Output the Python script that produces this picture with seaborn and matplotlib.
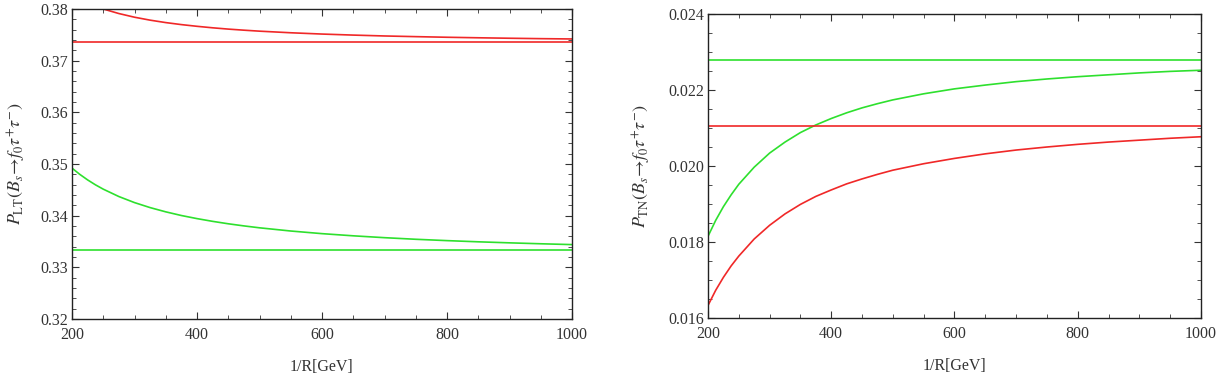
import matplotlib
matplotlib.use("Agg")
import matplotlib.pyplot as plt
import seaborn as sns
import pandas as pd
from matplotlib.ticker import MultipleLocator, FormatStrFormatter

# ---- data ----
inv_R = [200, 212.5, 225, 237.5, 250, 275, 300, 325, 350, 375, 400, 425, 450, 475, 500, 550,
         600, 650, 700, 750, 800, 850, 900, 950, 1000]

# Left panel: P_LT
plt_red_curve = [0.38263, 0.38183, 0.38113, 0.38053, 0.38000, 0.37912, 0.37841, 0.37784, 0.37737,
                 0.37698, 0.37665, 0.37636, 0.37611, 0.37590, 0.37571, 0.37540,
                 0.37515, 0.37495, 0.37478, 0.37465, 0.37453, 0.37443, 0.37434, 0.37426, 0.37420]
plt_red_flat = [0.37368] * 25
plt_green_curve = [0.34920, 0.34799, 0.34692, 0.34597, 0.34513, 0.34370, 0.34253, 0.34156, 0.34074,
                   0.34003, 0.33943, 0.33890, 0.33843, 0.33802, 0.33765, 0.33703,
                   0.33652, 0.33610, 0.33574, 0.33543, 0.33517, 0.33494, 0.33474, 0.33456, 0.33440]
plt_green_flat = [0.33328] * 25

# Right panel: P_TN
ptn_green_flat = [0.02278] * 25
ptn_green_curve = [0.01815, 0.01857, 0.01893, 0.01924, 0.01952, 0.01997, 0.02034, 0.02063, 0.02088,
                   0.02108, 0.02125, 0.02140, 0.02153, 0.02164, 0.02174, 0.02190,
                   0.02203, 0.02213, 0.02222, 0.02229, 0.02235, 0.02240, 0.02245, 0.02249, 0.02252]
ptn_red_flat = [0.02104] * 25
ptn_red_curve = [0.01633, 0.01673, 0.01707, 0.01737, 0.01763, 0.01808, 0.01844, 0.01874, 0.01899,
                 0.01920, 0.01937, 0.01953, 0.01966, 0.01978, 0.01989, 0.02006,
                 0.02020, 0.02032, 0.02042, 0.02050, 0.02057, 0.02063, 0.02068, 0.02073, 0.02077]

RED = "#f02828"
GREEN = "#2ee02e"

sns.set_style("ticks")
plt.rcParams["font.family"] = ["Liberation Serif", "DejaVu Serif"]
plt.rcParams["mathtext.fontset"] = "stix"

def long_df(series):
    rows = []
    for name, vals in series.items():
        for x, y in zip(inv_R, vals):
            rows.append({"x": x, "y": y, "s": name})
    return pd.DataFrame(rows)

fig = plt.figure(figsize=(12.21, 3.83), dpi=100)
ax1 = fig.add_axes([0.05897, 0.16710, 0.40950, 0.80940])
ax2 = fig.add_axes([0.57985, 0.16971, 0.40377, 0.79373])

df1 = long_df({"rc": plt_red_curve, "rf": plt_red_flat, "gc": plt_green_curve, "gf": plt_green_flat})
df2 = long_df({"gf": ptn_green_flat, "gc": ptn_green_curve, "rf": ptn_red_flat, "rc": ptn_red_curve})
pal = {"rc": RED, "rf": RED, "gc": GREEN, "gf": GREEN}

sns.lineplot(data=df1, x="x", y="y", hue="s", palette=pal, ax=ax1, legend=False, lw=1.2)
sns.lineplot(data=df2, x="x", y="y", hue="s", palette=pal, ax=ax2, legend=False, lw=1.2)

ax1.set_xlim(200, 1000)
ax1.set_ylim(0.32, 0.38)
ax1.yaxis.set_major_locator(MultipleLocator(0.01))
ax1.yaxis.set_minor_locator(MultipleLocator(0.002))
ax1.yaxis.set_major_formatter(FormatStrFormatter("%.2f"))

ax2.set_xlim(200, 1000)
ax2.set_ylim(0.016, 0.024)
ax2.yaxis.set_major_locator(MultipleLocator(0.002))
ax2.yaxis.set_minor_locator(MultipleLocator(0.0005))
ax2.yaxis.set_major_formatter(FormatStrFormatter("%.3f"))

for ax in (ax1, ax2):
    ax.xaxis.set_major_locator(MultipleLocator(200))
    ax.xaxis.set_minor_locator(MultipleLocator(50))
    ax.tick_params(which="both", direction="in", top=True, right=True, labelsize=11.5,
                   colors="#333333", labelcolor="#333333")
    ax.tick_params(which="major", length=5, width=0.8)
    ax.tick_params(which="minor", length=3, width=0.6)
    ax.tick_params(axis="x", which="major", pad=6)
    ax.tick_params(axis="y", which="major", pad=3)
    for sp in ax.spines.values():
        sp.set_linewidth(1.0)
        sp.set_color("#222222")
    ax.set_xlabel("1/R[GeV]", fontsize=11.5, labelpad=11, color="#333333")

ax1.set_ylabel(r"$P_{\rm LT}(B_s\!\rightarrow\! f_0\tau^{+}\tau^{-})$", fontsize=13, labelpad=9, color="#333333")
ax2.set_ylabel(r"$P_{\rm TN}(B_s\!\rightarrow\! f_0\tau^{+}\tau^{-})$", fontsize=13, labelpad=11, color="#333333")

fig.savefig("out.png", dpi=100)
